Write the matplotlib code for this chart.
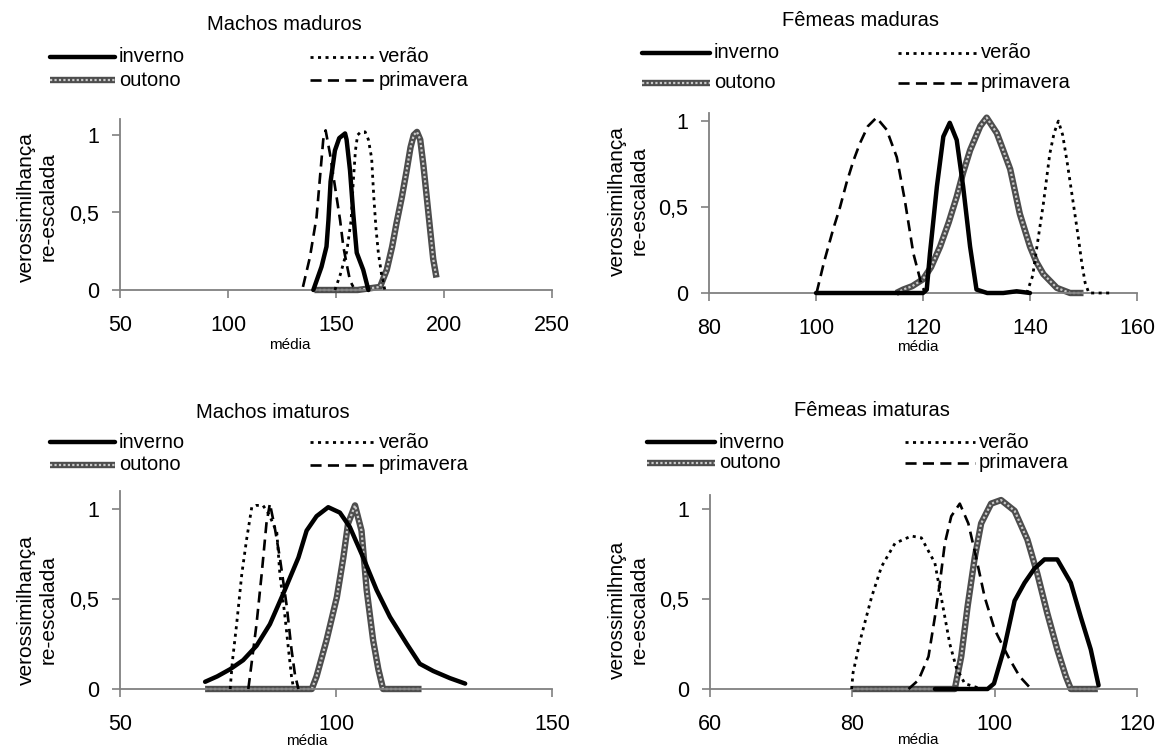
import matplotlib
matplotlib.use("Agg")
import matplotlib.pyplot as plt
from matplotlib.lines import Line2D

plt.rcParams['font.family'] = ['Liberation Sans', 'DejaVu Sans']

W, H = 1167, 749

# (média, verossimilhança re-escalada) pairs

# Machos maduros
mm_inverno = [(139.5, 0), (143.3, 0.15), (145.6, 0.28), (146.5, 0.45), (147.5, 0.7), (149.5, 0.9),
              (151.5, 0.98), (154.2, 1.01), (154.9, 0.97), (156.5, 0.77), (158, 0.49), (159.6, 0.24),
              (162.6, 0.13), (165, 0)]
mm_verao = [(149.5, 0), (152, 0.1), (155, 0.25), (157, 0.45), (158, 0.7), (159, 0.9), (160, 1.0),
            (161.5, 1.02), (163.5, 1.02), (165, 0.97), (166.5, 0.85), (167.5, 0.6), (168.5, 0.4),
            (169.6, 0.24), (171.1, 0.1), (172.6, 0)]
mm_outono = [(140, 0), (150, 0), (160, 0), (170.4, 0.02), (173.5, 0.13), (176, 0.28), (178, 0.43),
             (180.5, 0.6), (182.7, 0.77), (184.5, 0.92), (186, 1.0), (187.5, 1.02), (189, 0.97),
             (190.5, 0.8), (192, 0.6), (193.5, 0.4), (195, 0.2), (196.5, 0.08)]
mm_primavera = [(134.7, 0.02), (137.9, 0.21), (141, 0.47), (141.8, 0.6), (142.6, 0.73), (144.1, 0.97),
                (145.2, 1.03), (147.2, 0.88), (149.5, 0.67), (151.9, 0.45), (153.4, 0.28), (154.9, 0.17),
                (156.5, 0.06), (158, 0.02)]

# Fêmeas maduras
fm_inverno = [(100, 0), (110, 0), (120, 0), (120.7, 0.02), (121.3, 0.23), (122.6, 0.62), (123.8, 0.91),
              (125, 0.99), (126.3, 0.89), (127.5, 0.62), (128.8, 0.27), (130, 0.02), (132, 0), (135, 0),
              (137.5, 0.01), (140, 0)]
fm_verao = [(139.4, 0), (140.5, 0.1), (141.3, 0.27), (142.5, 0.52), (143.7, 0.81), (144.5, 0.93),
            (145.3, 1.0), (146.1, 0.92), (146.9, 0.77), (148.1, 0.52), (149, 0.33), (149.7, 0.17),
            (150.3, 0.06), (151, 0), (155, 0)]
fm_outono = [(115, 0), (116.3, 0.02), (118, 0.04), (120, 0.08), (121.5, 0.15), (123.2, 0.27), (124.8, 0.41),
             (126.3, 0.56), (127.5, 0.7), (128.8, 0.83), (130.7, 0.97), (131.9, 1.02), (133.8, 0.93),
             (135, 0.83), (136.3, 0.72), (138.1, 0.46), (140, 0.27), (141.2, 0.18), (142.5, 0.11),
             (145, 0.03), (147.5, 0), (150, 0)]
fm_primavera = [(100.1, 0), (101.5, 0.18), (103.2, 0.37), (104.5, 0.5), (105.7, 0.64), (107, 0.77),
                (108.2, 0.87), (109.7, 0.97), (111.3, 1.02), (113.2, 0.95), (115.1, 0.79), (116.6, 0.54),
                (118.2, 0.23), (119.8, 0.04), (120.5, 0)]

# Machos imaturos
mi_inverno = [(69.7, 0.04), (72.5, 0.07), (75.5, 0.11), (78.5, 0.16), (81.6, 0.24), (84.7, 0.36),
              (87.8, 0.53), (91.3, 0.73), (93.2, 0.88), (95.5, 0.96), (98.2, 1.01), (100.9, 0.98),
              (103.2, 0.9), (106.3, 0.73), (109.4, 0.55), (112.5, 0.40), (116.4, 0.25), (119.4, 0.14),
              (122.5, 0.10), (126.4, 0.06), (129.9, 0.03)]
mi_verao = [(75.5, 0), (76, 0.15), (77, 0.36), (78.2, 0.64), (79.3, 0.83), (80.5, 1.01), (81.5, 1.02),
            (83.1, 1.02), (84.5, 0.97), (86.3, 0.87), (87, 0.64), (88.2, 0.40), (89, 0.22), (89.7, 0.07),
            (90.2, 0)]
mi_outono = [(69.7, 0), (80, 0), (90, 0), (94.4, 0), (95.5, 0.07), (97.8, 0.27), (100.2, 0.51),
             (101.7, 0.73), (102.8, 0.92), (104.4, 1.02), (105.9, 0.88), (107.1, 0.55), (108.6, 0.27),
             (109.8, 0.11), (110.9, 0), (119.8, 0)]
mi_primavera = [(79.7, 0), (80.5, 0.15), (81.6, 0.36), (82.8, 0.64), (83.9, 0.92), (84.7, 1.03),
                (85.8, 0.9), (87, 0.73), (88.6, 0.46), (89.7, 0.22), (90.5, 0.08), (91.3, 0)]

# Fêmeas imaturas
fi_inverno = [(91.6, 0), (99, 0), (99.9, 0.03), (101.3, 0.22), (102.8, 0.49), (104.2, 0.59), (105.6, 0.67),
              (107, 0.72), (108.8, 0.72), (110.7, 0.59), (112.1, 0.40), (113.5, 0.22), (114.6, 0.02)]
fi_verao = [(79.9, 0), (80.1, 0.09), (81.1, 0.27), (82.7, 0.51), (84.1, 0.68), (86, 0.81), (88.3, 0.85),
            (89.7, 0.84), (91.6, 0.70), (92.3, 0.55), (93, 0.40), (93.7, 0.25), (94.6, 0.12), (95.8, 0.03),
            (98.2, 0)]
fi_outono = [(80, 0), (90, 0), (94.4, 0), (95.3, 0.18), (96.2, 0.46), (97.2, 0.73), (98.1, 0.92),
             (99.5, 1.03), (100.9, 1.05), (102.8, 0.99), (104.6, 0.83), (106, 0.64), (107.4, 0.42),
             (108.8, 0.22), (110, 0.07), (110.7, 0), (114.5, 0)]
fi_primavera = [(87.9, 0), (89.3, 0.05), (90.7, 0.18), (91.6, 0.40), (92.3, 0.59), (93, 0.81),
                (93.9, 0.96), (95.1, 1.03), (96.3, 0.92), (97.4, 0.73), (98.6, 0.51), (100, 0.33),
                (101.9, 0.18), (103.5, 0.07), (104.9, 0.01)]

titles = ["Machos maduros", "Fêmeas maduras", "Machos imaturos", "Fêmeas imaturas"]
ylabels = ["verossimilhança\nre-escalada", "verossimilhança\nre-escalada",
           "verossimilhança\nre-escalada", "verossimilhnça\nre-escalada"]
season_labels = ["inverno", "outono", "verão", "primavera"]
xticks = [[50, 100, 150, 200, 250], [80, 100, 120, 140, 160], [50, 100, 150], [60, 80, 100, 120]]
yticks = [0, 0.5, 1]
ytick_labels = ["0", "0,5", "1"]

panel_data = [
    [mm_inverno, mm_outono, mm_verao, mm_primavera],
    [fm_inverno, fm_outono, fm_verao, fm_primavera],
    [mi_inverno, mi_outono, mi_verao, mi_primavera],
    [fi_inverno, fi_outono, fi_verao, fi_primavera],
]

# layout in pixels
axes_px = [(120, 119.5, 552, 290), (709, 113, 1137, 293), (120, 491, 552, 689), (710, 495, 1137, 689)]
ytops = [1.1, 1.047, 1.1, 1.078]
title_px = [(284, 25), (860, 20), (273, 412), (872, 410)]
media_px = [(290, 345), (918, 347), (307, 741), (918, 740)]
ylab_px = [(37, 207), (628, 201), (37, 610), (628, 610)]
# legend: left handle x0-x1, right handle x0-x1, row y1, row y2
legend_px = [(50, 115, 310, 375, 57, 80), (642, 710, 898, 977, 53, 83),
             (50, 115, 310, 375, 442, 465), (647, 715, 905, 975, 442, 463)]

FS = 14.5
TICK_FS = 15.5
GRAY = '#808080'


def fx(px):
    return px / W


def fy(py):
    return 1 - py / H


def season_lines(xs, ys, kind, **kw):
    # one season curve in its own line style (outono = two stacked lines)
    if kind == 'inverno':
        return [Line2D(xs, ys, color='black', lw=3.2, solid_capstyle='round', **kw)]
    if kind == 'verao':
        return [Line2D(xs, ys, color='black', lw=2.0, dashes=(1.1, 1.6), **kw)]
    if kind == 'primavera':
        return [Line2D(xs, ys, color='black', lw=1.9, dashes=(4.2, 2.4), **kw)]
    return [Line2D(xs, ys, color='#4d4d4d', lw=4.6, solid_capstyle='butt', **kw),
            Line2D(xs, ys, color='#c9c9c9', lw=1.6, dashes=(1, 1), **kw)]


kinds = ['inverno', 'outono', 'verao', 'primavera']
zorders = {'outono': 2, 'inverno': 3, 'primavera': 4, 'verao': 5}

fig = plt.figure(figsize=(W / 100, H / 100), dpi=100)

for i in range(4):
    l, t, r, b = axes_px[i]
    ax = fig.add_axes([fx(l), fy(b), (r - l) / W, (b - t) / H])
    for series, kind in zip(panel_data[i], kinds):
        xs = [p[0] for p in series]
        ys = [p[1] for p in series]
        for art in season_lines(xs, ys, kind, zorder=zorders[kind]):
            art.set_clip_on(False)
            ax.add_line(art)
    ax.set_xlim(xticks[i][0], xticks[i][-1])
    ax.set_ylim(0, ytops[i])
    ax.set_xticks(xticks[i])
    ax.set_yticks(yticks)
    ax.set_yticklabels(ytick_labels)
    for s in ['top', 'right']:
        ax.spines[s].set_visible(False)
    for s in ['left', 'bottom']:
        ax.spines[s].set_color(GRAY)
        ax.spines[s].set_linewidth(1.3)
    ax.tick_params(direction='out', length=6, width=1.2, color=GRAY, labelsize=TICK_FS)
    ax.tick_params(axis='x', pad=12)
    ax.tick_params(axis='y', pad=9)

    # titles and axis texts
    tx, ty = title_px[i]
    fig.text(fx(tx), fy(ty), titles[i], ha='center', va='center', fontsize=FS)
    mx, my = media_px[i]
    fig.text(fx(mx), fy(my), "média", ha='center', va='center', fontsize=11)
    lx, ly = ylab_px[i]
    fig.text(fx(lx), fy(ly), ylabels[i], ha='center', va='center', rotation=90,
             fontsize=15, linespacing=1.2)

    # legend drawn in figure pixels
    a0, a1, b0, b1, r1, r2 = legend_px[i]
    slots = [(a0, a1, r1), (a0, a1, r2), (b0, b1, r1), (b0, b1, r2)]
    for (x0, x1, yy), kind, lab in zip(slots, kinds, season_labels):
        for art in season_lines([fx(x0), fx(x1)], [fy(yy), fy(yy)], kind,
                                transform=fig.transFigure):
            fig.add_artist(art)
        fig.text(fx(x1 + 4), fy(yy), lab, ha='left', va='center', fontsize=FS)

fig.savefig("out.png", dpi=100)
